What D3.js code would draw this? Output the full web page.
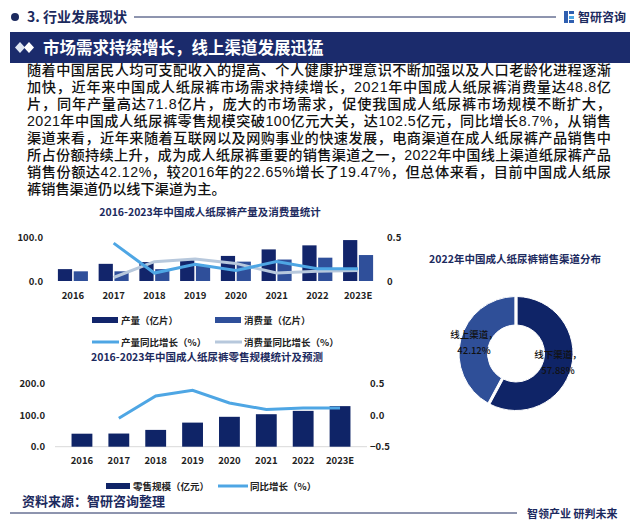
<!DOCTYPE html>
<html><head><meta charset="utf-8">
<script src="https://cdn.jsdelivr.net/npm/d3@7"></script>
<style>
html,body{margin:0;padding:0;background:#fff;}
svg{display:block;font-family:"Noto Sans CJK SC","Noto Sans",sans-serif;}
</style></head>
<body>
<script>
// ---------- data ----------
const years = ["2016","2017","2018","2019","2020","2021","2022","2023E"];
const production = [27, 39, 43, 48, 57, 71.8, 81, 93];
const consumption = [22, 22, 27, 36, 44, 48.8, 53, 59];
const prodGrowth = [null, 0.43, 0.09, 0.19, 0.12, 0.22, 0.14, 0.14];
const consGrowth = [null, 0.04, 0.22, 0.25, 0.20, 0.09, 0.11, 0.12];
const retail = [41, 41.5, 53, 76, 94.3, 102.5, 113, 128];
const retailGrowth = [null, -0.05, 0.30, 0.39, 0.19, 0.087, 0.11, 0.11];
const channels = ["线下渠道", "线上渠道"];
const channelShare = [57.88, 42.12];
const c1LeftTicks = [0, 100];
const c1RightTicks = [0, 0.5];
const c2LeftTicks = [0, 100, 200];
const c2RightTicks = [-0.5, 0, 0.5];
const paragraph = [
 "随着中国居民人均可支配收入的提高、个人健康护理意识不断加强以及人口老龄化进程逐渐",
 "加快，近年来中国成人纸尿裤市场需求持续增长，2021年中国成人纸尿裤消费量达48.8亿",
 "片，同年产量高达71.8亿片，庞大的市场需求，促使我国成人纸尿裤市场规模不断扩大，",
 "2021年中国成人纸尿裤零售规模突破100亿元大关，达102.5亿元，同比增长8.7%，从销售",
 "渠道来看，近年来随着互联网以及网购事业的快速发展，电商渠道在成人纸尿裤产品销售中",
 "所占份额持续上升，成为成人纸尿裤重要的销售渠道之一，2022年中国线上渠道纸尿裤产品",
 "销售份额达42.12%，较2016年的22.65%增长了19.47%，但总体来看，目前中国成人纸尿",
 "裤销售渠道仍以线下渠道为主。"
];

// ---------- colors ----------
const NAVY = "#12256b", MID = "#2f4f9a", BRIGHT = "#4ea6e4", PALE = "#b7c8dc", TITLE = "#1c2a5e";

const W = 636, H = 527;
const svg = d3.select("body").append("svg").attr("width", W).attr("height", H);

// ---------- header ----------
svg.append("circle").attr("cx", 15).attr("cy", 17).attr("r", 4).attr("fill", TITLE);
svg.append("text").attr("x", 27).attr("y", 22).attr("font-size", 14).attr("font-weight", 700)
  .attr("fill", TITLE).text("3. 行业发展现状");
svg.append("line").attr("x1", 134).attr("x2", 556).attr("y1", 17).attr("y2", 17)
  .attr("stroke", TITLE).attr("stroke-width", 1);
const logo = svg.append("g").attr("transform", "translate(564,11)");
logo.append("rect").attr("x", 0).attr("y", 0).attr("width", 4).attr("height", 12).attr("fill", "#2f5fb0");
logo.append("rect").attr("x", 5).attr("y", 0).attr("width", 5).attr("height", 3).attr("fill", "#2f5fb0");
logo.append("rect").attr("x", 5).attr("y", 5).attr("width", 5).attr("height", 3).attr("fill", "#4ea6e4");
logo.append("rect").attr("x", 5).attr("y", 9).attr("width", 5).attr("height", 3).attr("fill", "#2f5fb0");
svg.append("text").attr("x", 578).attr("y", 22).attr("font-size", 12).attr("font-weight", 700)
  .attr("fill", TITLE).text("智研咨询");

svg.append("rect").attr("x", 10).attr("y", 32).attr("width", 620).attr("height", 31).attr("fill", "#1b2b6c");
[20, 29].forEach((cx, i) => {
  svg.append("path").attr("d", `M${cx},${42} L${cx+5},${47.5} L${cx},${53} L${cx-5},${47.5} Z`)
    .attr("fill", i ? "#ffffff" : "#dfe6f3");
});
svg.append("text").attr("x", 43).attr("y", 53.5).attr("font-size", 16.5).attr("font-weight", 700)
  .attr("fill", "#fff").text("市场需求持续增长，线上渠道发展迅猛");

// ---------- paragraph ----------
paragraph.forEach((line, i) => {
  const t = svg.append("text").attr("x", 27).attr("y", 74.5 + i * 17.1).attr("font-size", 14.2)
    .attr("font-family", "'Liberation Sans','Noto Sans CJK SC',sans-serif")
    .attr("font-weight", 500).attr("fill", "#111").text(line);
  if (i < paragraph.length - 1) t.attr("textLength", 584).attr("lengthAdjust", "spacing");
});

// ---------- chart 1 ----------
svg.append("text").attr("x", 210).attr("y", 215.5).attr("text-anchor", "middle")
  .attr("font-size", 10.5).attr("font-weight", 700).attr("fill", TITLE)
  .text("2016-2023年中国成人纸尿裤产量及消费量统计");

const x1 = d3.scaleBand().domain(years).range([52.6, 378.4]).paddingInner(0.263).paddingOuter(0.13);
const xs1 = d3.scaleBand().domain(["p", "c"]).range([0, x1.bandwidth()]).paddingInner(0.1);
const y1L = d3.scaleLinear().domain([0, 100]).range([281, 237]);
const y1R = d3.scaleLinear().domain([0, 0.5]).range([281, 237]);

const g1 = svg.append("g");
g1.selectAll("rect.p").data(years).join("rect")
  .attr("x", d => x1(d) + xs1("p")).attr("width", xs1.bandwidth())
  .attr("y", (d, i) => y1L(production[i])).attr("height", (d, i) => y1L(0) - y1L(production[i]))
  .attr("fill", NAVY);
g1.selectAll("rect.c").data(years).join("rect")
  .attr("x", d => x1(d) + xs1("c")).attr("width", xs1.bandwidth())
  .attr("y", (d, i) => y1L(consumption[i])).attr("height", (d, i) => y1L(0) - y1L(consumption[i]))
  .attr("fill", MID);

const line1 = arr => d3.line()
  .defined((d, i) => arr[i] != null)
  .x((d, i) => x1(years[i]) + x1.bandwidth() / 2)
  .y((d, i) => y1R(arr[i]))(arr);
g1.append("path").attr("d", line1(consGrowth)).attr("fill", "none").attr("stroke", PALE).attr("stroke-width", 3);
g1.append("path").attr("d", line1(prodGrowth)).attr("fill", "none").attr("stroke", BRIGHT).attr("stroke-width", 3);

function styleAxis(sel) {
  sel.select(".domain").remove();
  sel.selectAll(".tick line").remove();
  sel.selectAll("text").attr("font-size", 9.5).attr("font-weight", 700).attr("fill", "#222")
    .attr("font-family", "'Noto Sans CJK SC','Noto Sans',sans-serif");
}
svg.append("g").attr("transform", "translate(47,0)")
  .call(d3.axisLeft(y1L).tickValues(c1LeftTicks).tickFormat(d3.format(".1f")).tickSize(0).tickPadding(4))
  .call(styleAxis);
svg.append("g").attr("transform", "translate(383,0)")
  .call(d3.axisRight(y1R).tickValues(c1RightTicks).tickFormat(d => d === 0 ? "0" : d3.format(".1f")(d)).tickSize(0).tickPadding(4))
  .call(styleAxis);
svg.append("g").attr("transform", "translate(0,288)")
  .call(d3.axisBottom(x1).tickSize(0).tickPadding(4))
  .call(styleAxis);

// legend 1
const leg1 = [
  {label: "产量（亿片）", color: NAVY, type: "rect", x: 92, y: 320},
  {label: "消费量（亿片）", color: MID, type: "rect", x: 215, y: 320},
  {label: "产量同比增长（%）", color: BRIGHT, type: "line", x: 92, y: 342},
  {label: "消费量同比增长（%）", color: PALE, type: "line", x: 215, y: 342}
];
leg1.forEach(l => {
  if (l.type === "rect") svg.append("rect").attr("x", l.x).attr("y", l.y - 3).attr("width", 26).attr("height", 6).attr("fill", l.color);
  else svg.append("line").attr("x1", l.x).attr("x2", l.x + 27).attr("y1", l.y).attr("y2", l.y).attr("stroke", l.color).attr("stroke-width", 3);
  svg.append("text").attr("x", l.x + 29).attr("y", l.y + 3.5).attr("font-size", 9.5).attr("font-weight", 700)
    .attr("fill", "#222").text(l.label);
});

// ---------- chart 2 ----------
svg.append("text").attr("x", 207).attr("y", 360.5).attr("text-anchor", "middle")
  .attr("font-size", 10.5).attr("font-weight", 700).attr("fill", TITLE)
  .text("2016-2023年中国成人纸尿裤零售规模统计及预测");

const x2 = d3.scaleBand().domain(years).range([55.5, 366.5]).padding(0.435);
const y2L = d3.scaleLinear().domain([0, 200]).range([446.7, 383.3]);
const y2R = d3.scaleLinear().domain([-0.5, 0.5]).range([446.7, 383.3]);

svg.append("line").attr("x1", 55).attr("x2", 367).attr("y1", y2L(0)).attr("y2", y2L(0))
  .attr("stroke", "#d9d9d9").attr("stroke-width", 1);
svg.append("g").selectAll("rect").data(years).join("rect")
  .attr("x", d => x2(d)).attr("width", x2.bandwidth())
  .attr("y", (d, i) => y2L(retail[i])).attr("height", (d, i) => y2L(0) - y2L(retail[i]))
  .attr("fill", "#0f2467");
svg.append("path").attr("d", d3.line()
    .defined((d, i) => retailGrowth[i] != null)
    .x((d, i) => x2(years[i]) + x2.bandwidth() / 2)
    .y((d, i) => y2R(retailGrowth[i]))(retailGrowth))
  .attr("fill", "none").attr("stroke", BRIGHT).attr("stroke-width", 3);

svg.append("g").attr("transform", "translate(49,0)")
  .call(d3.axisLeft(y2L).tickValues(c2LeftTicks).tickFormat(d3.format(".1f")).tickSize(0).tickPadding(4))
  .call(styleAxis);
svg.append("g").attr("transform", "translate(366,0)")
  .call(d3.axisRight(y2R).tickValues(c2RightTicks).tickFormat(d3.format(".1f")).tickSize(0).tickPadding(4))
  .call(styleAxis);
svg.append("g").attr("transform", "translate(0,453)")
  .call(d3.axisBottom(x2).tickSize(0).tickPadding(4))
  .call(styleAxis);

svg.append("rect").attr("x", 106).attr("y", 483).attr("width", 24).attr("height", 6).attr("fill", "#0f2467");
svg.append("text").attr("x", 133).attr("y", 489.5).attr("font-size", 9.5).attr("font-weight", 700).attr("fill", "#222").text("零售规模（亿元）");
svg.append("line").attr("x1", 218).attr("x2", 248).attr("y1", 486).attr("y2", 486).attr("stroke", BRIGHT).attr("stroke-width", 3);
svg.append("text").attr("x", 250).attr("y", 489.5).attr("font-size", 9.5).attr("font-weight", 700).attr("fill", "#222").text("同比增长（%）");

// ---------- donut ----------
svg.append("text").attr("x", 515).attr("y", 263).attr("text-anchor", "middle")
  .attr("font-size", 10.5).attr("font-weight", 700).attr("fill", TITLE)
  .text("2022年中国成人纸尿裤销售渠道分布");
const pie = d3.pie().sort(null).value(d => d)(channelShare);
const arc = d3.arc().innerRadius(28.5).outerRadius(57).padAngle(0.035);
const dg = svg.append("g").attr("transform", "translate(516,353.5)");
dg.selectAll("path").data(pie).join("path").attr("d", arc)
  .attr("fill", (d, i) => i === 0 ? "#0f2467" : "#2f4f98").attr("stroke", "#fff").attr("stroke-width", 1);
const labelPos = [[42, 4], [-42, -16]];
pie.forEach((p, i) => {
  const t = dg.append("text").attr("text-anchor", "middle").attr("font-size", 9.5).attr("font-weight", 500).attr("fill", "#111");
  t.append("tspan").attr("x", labelPos[i][0]).attr("y", labelPos[i][1]).text(channels[i] + "，");
  t.append("tspan").attr("x", labelPos[i][0]).attr("y", labelPos[i][1] + 16).text(channelShare[i].toFixed(2) + "%");
});

// ---------- footer ----------
svg.append("text").attr("x", 22).attr("y", 506).attr("font-size", 13).attr("font-weight", 700)
  .attr("fill", TITLE).text("资料来源：智研咨询整理");
svg.append("line").attr("x1", 10).attr("x2", 517).attr("y1", 513).attr("y2", 513).attr("stroke", TITLE).attr("stroke-width", 1);
svg.append("text").attr("x", 527).attr("y", 518).attr("font-size", 11).attr("font-weight", 700)
  .attr("fill", TITLE).text("智领产业 研判未来");
</script>
</body></html>
